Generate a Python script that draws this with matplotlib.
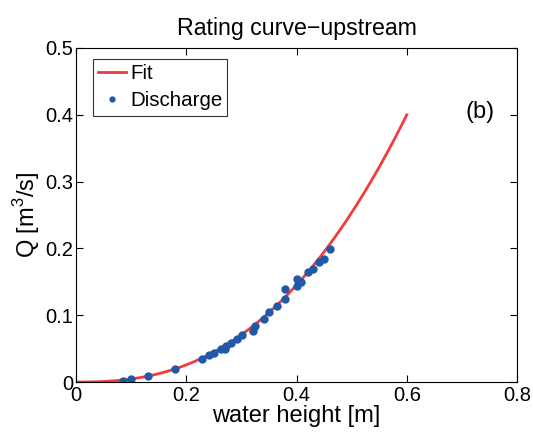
import numpy as np
import matplotlib.pyplot as plt

plt.rcParams['font.family'] = ['Liberation Sans', 'DejaVu Sans']
plt.rcParams['mathtext.fontset'] = 'custom'
plt.rcParams['mathtext.rm'] = 'Liberation Sans'

# measured discharge points (water height [m], Q [m3/s])
height = [0.085, 0.100, 0.130, 0.180, 0.228, 0.241, 0.251, 0.263, 0.270, 0.272,
          0.282, 0.292, 0.301, 0.321, 0.325, 0.341, 0.350, 0.365, 0.380, 0.380,
          0.400, 0.400, 0.408, 0.421, 0.430, 0.441, 0.450, 0.461]
discharge = [0.002, 0.005, 0.0085, 0.020, 0.035, 0.040, 0.044, 0.049, 0.050, 0.054,
             0.059, 0.064, 0.070, 0.077, 0.084, 0.095, 0.105, 0.114, 0.124, 0.139,
             0.144, 0.154, 0.149, 0.164, 0.169, 0.179, 0.184, 0.199]

# power law fit Q = a * h^b
fit_a = 1.434
fit_b = 2.5
fit_hmax = 0.6

fig = plt.figure(figsize=(5.33, 4.32), dpi=100)
ax = fig.add_axes([0.1426, 0.1157, 0.8274, 0.7732])

h = np.linspace(0, fit_hmax, 200)
ax.plot(h, fit_a * h ** fit_b, color='#f03c3c', lw=2, label='Fit')
ax.plot(height, discharge, 'o', color='#2158a8', ms=5, label='Discharge')

ax.set_xlim(0, 0.8)
ax.set_ylim(0, 0.5)
ax.set_xticks([0, 0.2, 0.4, 0.6, 0.8])
ax.set_xticklabels(['0', '0.2', '0.4', '0.6', '0.8'])
ax.set_yticks([0, 0.1, 0.2, 0.3, 0.4, 0.5])
ax.set_yticklabels(['0', '0.1', '0.2', '0.3', '0.4', '0.5'])
ax.tick_params(direction='in', top=True, right=True, labelsize=14.5, length=5)
ax.tick_params(axis='x', pad=3)
ax.tick_params(axis='y', pad=2)
ax.set_xlabel('water height [m]', fontsize=17, labelpad=0)
ax.set_ylabel('Q [m$^3$/s]', fontsize=17, labelpad=2)
ax.set_title('Rating curve\u2212upstream', fontsize=16.7, pad=9)
ax.text(0.733, 0.404, '(b)', fontsize=17, ha='center', va='center')

leg = ax.legend(loc='upper left', bbox_to_anchor=(0.0385, 0.967), fontsize=14.8,
                fancybox=False, edgecolor='black', handlelength=1.35,
                markerscale=0.7, borderaxespad=0, borderpad=0.25,
                labelspacing=0.4, handletextpad=0.2)
leg.get_frame().set_linewidth(0.8)

fig.savefig('out.png', dpi=100)
